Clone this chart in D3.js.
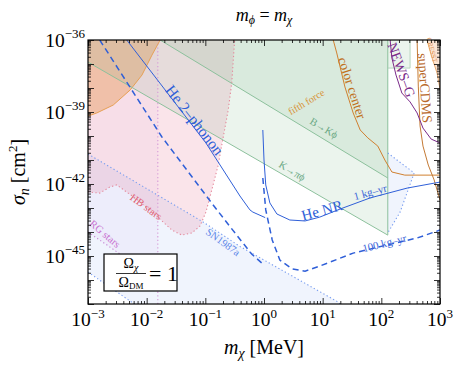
<!DOCTYPE html>
<html>
<head>
<meta charset="utf-8">
<script src="https://cdn.jsdelivr.net/npm/d3@7"></script>
<style>
body { margin: 0; background: #fff; }
svg { display: block; font-family: "Liberation Serif", "Times New Roman", serif; }
</style>
</head>
<body>
<svg id="chart" width="454" height="366"></svg>
<script>
// every curve: [log10(m_chi / MeV), log10(sigma_n / cm^2)]
const fifthForceRegion = [[-1.77,-36],[-1.91,-36.63],[-2.08,-37.46],[-2.28,-38.08],[-2.57,-38.71],[-2.85,-39.04],[-3,-39.17]];
const hbStars = [[-3,-42.33],[-2.8,-42.38],[-2.63,-42.13],[-2.51,-42.04],[-2.2,-42.58],[-1.81,-43.38],[-1.57,-43.92],[-1.4,-44.13],
	[-1.23,-44.04],[-1.09,-43.75],[-0.99,-43.17],[-0.89,-42.25],[-0.78,-41.21],[-0.72,-40.38],[-0.61,-38.92],[-0.55,-37.79],[-0.5,-36]];
const rgStarsMass = -1.81;
const rgStarsLine = [[-3,-44],[-1.81,-46]];
const sn1987aUpper = [[-3,-40.75],[-1.04,-43.58],[-0.41,-44.6],[1.25,-46.9],[1.3,-47]];
const sn1987aLower = [[-3,-45.67],[-2.21,-47]];
const kPiPhi = [[-3,-36.92],[2.11,-44.13]];
const bKPhi = [[-1.77,-36],[2.11,-41.75]];
const mesonMassCut = 2.11;
const notch = [[2.11,-37.17],[2.49,-37.17],[2.49,-36]];
const colorCenter = [[1.18,-36],[1.24,-36.54],[1.38,-37.96],[1.52,-39.04],[1.64,-39.75],[1.77,-40.08],[1.94,-40.42],[2.06,-41],[2.18,-41.5],[2.4,-41.63],[3,-41.63]];
const superCDMS = [[2.61,-36],[2.63,-37.92],[2.66,-39.58],[2.71,-40.42],[2.8,-41.21],[2.9,-41.83],[3,-42.67]];
const cresst = [[2.78,-36],[2.85,-36.63],[2.95,-37.38],[3,-38.04]];
const newsG = [[2.15,-36],[2.18,-36.75],[2.25,-37.46],[2.35,-38.21],[2.49,-38.58],[2.61,-39.04],[2.71,-39.67],[2.85,-40.13],[3,-40.29]];
const kite = [[2.11,-40.71],[2.56,-41.54],[2.32,-43.17],[2.11,-44.04]];
const he2phonon1kg = [[-2.34,-36],[-0.99,-40.29],[-0.41,-42.5],[-0.24,-43.08],[-0.19,-43.17],[0.02,-43.4]];
const he2phonon100kg = [[-2.8,-36],[-1.74,-40.04],[-0.84,-42.96],[-0.44,-44.21],[-0.21,-44.92],[-0.02,-45.33]];
const heNR1kg = [[-0.02,-39.75],[0,-41],[0.03,-42.04],[0.1,-42.79],[0.22,-43.25],[0.44,-43.5],[0.7,-43.54],[0.95,-43.38],[1.3,-43.04],[1.81,-42.58],[2.44,-42.17],[3,-41.92]];
const heNR100kg = [[-0.02,-41.75],[0.03,-43.08],[0.14,-44.33],[0.27,-45.17],[0.48,-45.54],[0.7,-45.63],[0.95,-45.42],[1.52,-44.88],[2.1,-44.54],[2.61,-44.25],[3,-43.92]];

const xTickExp = [-3, -2, -1, 0, 1, 2, 3];
const yTickExp = [-36, -39, -42, -45];

// text, log m, log sigma, angle, colour, size
const labels = [
	["He 2\u2013phonon", -1.18, -39.33, 52, "#2f5fd8", 15.5],
	["He NR", 0.99, -43.1, -15, "#2f5fd8", 15],
	["1 kg\u2013yr", 1.81, -42.33, -15, "#3a64d8", 11],
	["100 kg\u2013yr", 2.05, -44.46, -14, "#3a64d8", 11],
	["fifth force", 0.72, -38.58, -31, "#d89030", 10],
	["B\u2192K\u03d5", 1.02, -39.67, 31, "#6aa884", 10.5],
	["K\u2192\u03c0\u03d5", 0.48, -41.46, 31, "#6aa884", 10.5],
	["color center", 1.5, -38, 72, "#c07020", 13.5],
	["NEWS\u2013G", 2.34, -37.25, 70, "#7a2a8a", 14],
	["superCDMS", 2.74, -38, 86, "#b8682a", 14],
	["CRESST", 2.86, -36.42, 75, "#e09050", 7],
	["HB stars", -2.01, -42.95, 36, "#e06070", 10.5],
	["RG stars", -2.71, -44.08, 40, "#c870d0", 10.5],
	["SN1987a", -0.7, -44.42, 36, "#5a84e8", 10.5],
];

const svg = d3.select("#chart");
const frame = { left: 88, right: 440, top: 40, bottom: 304 };

let x = d3.scaleLog().domain([1e-3, 1e3]).range([frame.left, frame.right]);
let y = d3.scaleLog().domain([1e-47, 1e-36]).range([frame.bottom, frame.top]);
let px = d => x(10 ** d[0]);
let py = d => y(10 ** d[1]);
let line = d3.line().x(px).y(py);
let area = pts => line(pts) + "Z";

svg.append("defs").append("clipPath").attr("id", "clip")
	.append("rect").attr("x", frame.left).attr("y", frame.top)
	.attr("width", frame.right - frame.left).attr("height", frame.bottom - frame.top);

let g = svg.append("g").attr("clip-path", "url(#clip)");

// filled regions
g.append("path").attr("d", area(sn1987aUpper.concat([[-2.21,-47]], sn1987aLower.slice().reverse())))
	.attr("fill", "rgb(110,150,235)").attr("fill-opacity", 0.1);
g.append("path").attr("d", area([[-3,-36]].concat(rgStarsLine, [[rgStarsMass,-36]])))
	.attr("fill", "rgb(200,110,210)").attr("fill-opacity", 0.05);
g.append("path").attr("d", area([[-3,-36]].concat(hbStars)))
	.attr("fill", "rgb(232,120,150)").attr("fill-opacity", 0.2);
g.append("path").attr("d", area([[-3,-36]].concat(fifthForceRegion.slice().reverse())))
	.attr("fill", "rgb(230,150,80)").attr("fill-opacity", 0.42);
g.append("path").attr("d", area([[-3,-36]].concat(kPiPhi, notch)))
	.attr("fill", "rgb(110,180,130)").attr("fill-opacity", 0.14);
g.append("path").attr("d", area(bKPhi.concat([[mesonMassCut,-36]])))
	.attr("fill", "rgb(110,180,130)").attr("fill-opacity", 0.14);
g.append("path").attr("d", area(cresst.concat([[3,-36]])))
	.attr("fill", "rgb(245,170,110)").attr("fill-opacity", 0.3);
g.append("path").attr("d", area(kite))
	.attr("fill", "rgb(110,150,235)").attr("fill-opacity", 0.1);

let stroke = (pts, color, width, dash) =>
	g.append("path").attr("d", line(pts)).attr("fill", "none")
		.attr("stroke", color).attr("stroke-width", width)
		.attr("stroke-dasharray", dash || null);

let dotted = "1.3 2.4";

// boundaries
stroke(sn1987aUpper, "#7a9ef0", 1.1, dotted);
stroke(sn1987aLower, "#7a9ef0", 1.1, dotted);
stroke(rgStarsLine, "#c98ad6", 1.1, dotted);
stroke([[rgStarsMass,-36],[rgStarsMass,-47]], "#d59ad8", 1.1, dotted);
stroke(hbStars, "#e48a9c", 1.1, dotted);
stroke(fifthForceRegion, "#e6a055", 1);
stroke(kPiPhi, "#8cc09c", 1);
stroke(bKPhi, "#8cc09c", 1);
stroke([[mesonMassCut,-36],[mesonMassCut,-44.13]], "#8cc09c", 1);
stroke(notch, "#a8cdb2", 0.8);
stroke(kite, "#7a9ef0", 1.1, dotted);
stroke(cresst, "#e6a060", 0.9);
stroke(colorCenter, "#d08030", 1);
stroke(superCDMS, "#c47a35", 1);
stroke(newsG, "#7a2a8a", 1);

// helium reach
stroke(he2phonon1kg, "#2f5fd8", 1);
stroke(heNR1kg, "#2f5fd8", 1);
stroke(he2phonon100kg, "#2f5fd8", 1.5, "6 4");
stroke(heNR100kg, "#2f5fd8", 1.5, "6 4");

// labels
for (let i = 0; i < labels.length; i++)
{
	let l = labels[i];
	let cx = x(10 ** l[1]), cy = y(10 ** l[2]);
	svg.append("text")
		.attr("x", cx).attr("y", cy)
		.attr("text-anchor", "middle")
		.attr("dominant-baseline", "central")
		.attr("transform", "rotate(" + l[3] + "," + cx + "," + cy + ")")
		.attr("fill", l[4])
		.attr("font-size", l[5])
		.text(l[0]);
}

// legend box
let box = svg.append("g");
box.append("rect").attr("x", 104).attr("y", 254).attr("width", 73).attr("height", 37)
	.attr("fill", "#fff").attr("stroke", "#000").attr("stroke-width", 1.2);
let num = box.append("text").attr("x", 131).attr("y", 268).attr("text-anchor", "middle").attr("font-size", 14);
num.append("tspan").text("\u03a9");
num.append("tspan").attr("font-style", "italic").attr("font-size", 10).attr("dy", 3).text("\u03c7");
box.append("line").attr("x1", 116).attr("x2", 146).attr("y1", 273.5).attr("y2", 273.5).attr("stroke", "#000").attr("stroke-width", 0.8);
let den = box.append("text").attr("x", 131).attr("y", 287).attr("text-anchor", "middle").attr("font-size", 14);
den.append("tspan").text("\u03a9");
den.append("tspan").attr("font-size", 9).attr("dy", 2).text("DM");
box.append("text").attr("x", 149).attr("y", 281).attr("font-size", 22).text("= 1");

// ticks
let xMinor = [], yMinor = [];
for (let e = -3; e < 3; e++) for (let k = 2; k < 10; k++) xMinor.push(k * 10 ** e);
for (let e = -47; e < -36; e++) for (let k = 2; k < 10; k++) yMinor.push(k * 10 ** e);
let xMajor = xTickExp.map(e => 10 ** e);
let yMajor = d3.range(-47, -35).map(e => 10 ** e);

let addAxis = function (axis, vals, size, tr)
{
	svg.append("g").attr("transform", tr)
		.call(axis.tickValues(vals).tickFormat("").tickSizeInner(-size).tickSizeOuter(0))
		.call(s => s.select(".domain").remove())
		.selectAll("line").attr("stroke", "#000").attr("stroke-width", 0.8);
}
addAxis(d3.axisBottom(x), xMajor, 6, "translate(0," + frame.bottom + ")");
addAxis(d3.axisBottom(x), xMinor, 3, "translate(0," + frame.bottom + ")");
addAxis(d3.axisTop(x), xMajor, 6, "translate(0," + frame.top + ")");
addAxis(d3.axisTop(x), xMinor, 3, "translate(0," + frame.top + ")");
addAxis(d3.axisLeft(y), yMajor, 6, "translate(" + frame.left + ",0)");
addAxis(d3.axisLeft(y), yMinor, 3, "translate(" + frame.left + ",0)");
addAxis(d3.axisRight(y), yMajor, 6, "translate(" + frame.right + ",0)");
addAxis(d3.axisRight(y), yMinor, 3, "translate(" + frame.right + ",0)");

svg.append("rect").attr("x", frame.left).attr("y", frame.top)
	.attr("width", frame.right - frame.left).attr("height", frame.bottom - frame.top)
	.attr("fill", "none").attr("stroke", "#000").attr("stroke-width", 1.2);

let powLabel = function (sel, e)
{
	sel.append("tspan").text("10");
	sel.append("tspan").attr("dy", -8.5).attr("font-size", 13).text(e < 0 ? "\u2212" + (-e) : "" + e);
}
xTickExp.forEach(e =>
{
	svg.append("text").attr("x", x(10 ** e)).attr("y", 326).attr("text-anchor", "middle")
		.attr("font-size", 19.5).call(powLabel, e);
});
yTickExp.forEach(e =>
{
	svg.append("text").attr("x", 85).attr("y", y(10 ** e) + 6.5).attr("text-anchor", "end")
		.attr("font-size", 19.5).call(powLabel, e);
});

// axis titles
let xt = svg.append("text").attr("x", 264).attr("y", 354).attr("text-anchor", "middle").attr("font-size", 20);
xt.append("tspan").attr("font-style", "italic").text("m");
xt.append("tspan").attr("font-style", "italic").attr("font-size", 14).attr("dy", 4).text("\u03c7");
xt.append("tspan").attr("dy", -4).text(" [MeV]");

let yt = svg.append("text").attr("transform", "translate(25,172) rotate(-90)").attr("text-anchor", "middle").attr("font-size", 20);
yt.append("tspan").attr("font-style", "italic").text("\u03c3");
yt.append("tspan").attr("font-style", "italic").attr("font-size", 14).attr("dy", 4).text("n");
yt.append("tspan").attr("dy", -4).text(" [cm");
yt.append("tspan").attr("font-size", 13).attr("dy", -8).text("2");
yt.append("tspan").attr("dy", 8).text("]");

let title = svg.append("text").attr("x", 264).attr("y", 21).attr("text-anchor", "middle").attr("font-size", 18);
title.append("tspan").attr("font-style", "italic").text("m");
title.append("tspan").attr("font-style", "italic").attr("font-size", 12).attr("dy", 3).text("\u03d5");
title.append("tspan").attr("dy", -3).text(" = ");
title.append("tspan").attr("font-style", "italic").text("m");
title.append("tspan").attr("font-style", "italic").attr("font-size", 12).attr("dy", 3).text("\u03c7");
</script>
</body>
</html>
